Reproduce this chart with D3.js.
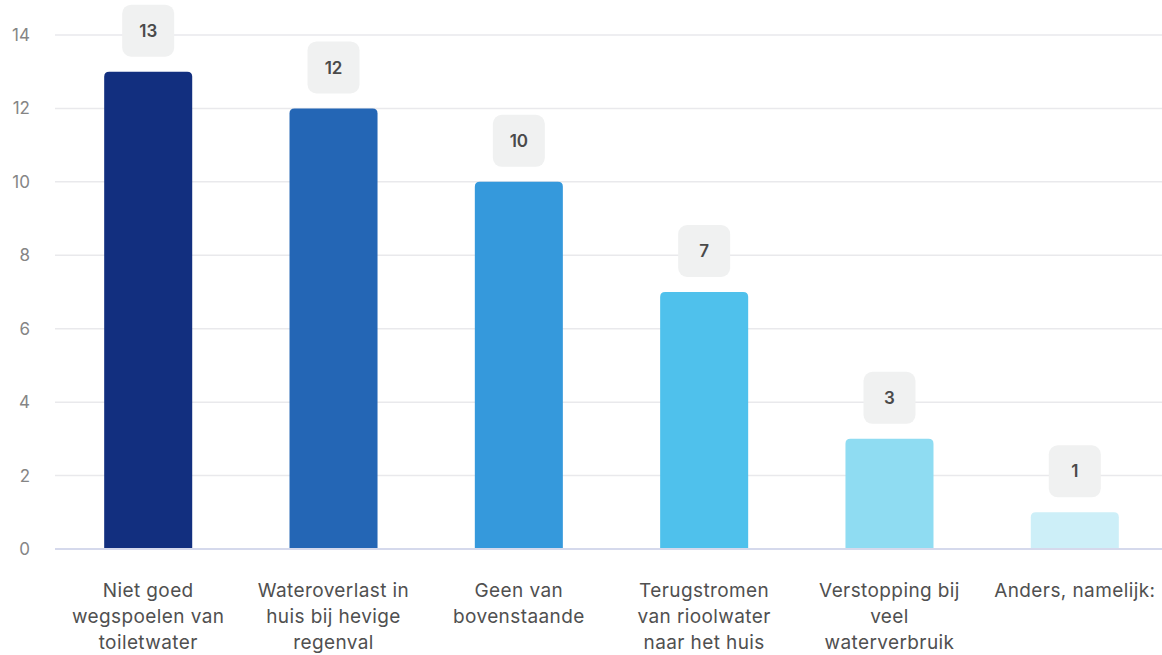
<!DOCTYPE html>
<html>
<head>
<meta charset="utf-8">
<script src="https://cdn.jsdelivr.net/npm/d3@7"></script>
<style>
  html, body { margin: 0; padding: 0; background: #fff; }
  svg { display: block; font-family: Inter, "Noto Sans", sans-serif; }
</style>
</head>
<body>
<svg id="chart"></svg>
<script>
// data
var categories = [
  ["Niet goed", "wegspoelen van", "toiletwater"],
  ["Wateroverlast in", "huis bij hevige", "regenval"],
  ["Geen van", "bovenstaande"],
  ["Terugstromen", "van rioolwater", "naar het huis"],
  ["Verstopping bij", "veel", "waterverbruik"],
  ["Anders, namelijk:"]
];
var values = [13, 12, 10, 7, 3, 1];
var barColors = ["#122f7f", "#2466b5", "#3599dc", "#4fc1ec", "#8fdcf2", "#cdeff8"];
var yTicks = [0, 2, 4, 6, 8, 10, 12, 14];

var width = 1162, height = 655;

var svg = d3.select("#chart")
  .attr("width", width)
  .attr("height", height);

var x = d3.scaleBand()
  .domain(d3.range(values.length))
  .range([56, 1167])
  .paddingInner(0.525)
  .paddingOuter(0.26);

var y = d3.scaleLinear()
  .domain([0, 14])
  .range([549, 35]);

// grid lines
svg.append("g")
  .selectAll("line")
  .data(yTicks.filter(function(d) { return d > 0; }))
  .enter().append("line")
    .attr("x1", 55)
    .attr("x2", width)
    .attr("y1", function(d) { return y(d); })
    .attr("y2", function(d) { return y(d); })
    .attr("stroke", "#e9e9ec")
    .attr("stroke-width", 1.5);

// y tick labels
svg.append("g")
  .selectAll("text")
  .data(yTicks)
  .enter().append("text")
    .attr("x", 30)
    .attr("y", function(d) { return y(d); })
    .attr("dy", "0.35em")
    .attr("text-anchor", "end")
    .attr("fill", "#858585")
    .style("font-size", "17px")
    .text(function(d) { return d; });

// bars with rounded top corners
var r = 5;
function barPath(i) {
  var x0 = x(i), w = x.bandwidth(), y0 = y(values[i]), yb = y(0);
  return "M" + x0 + "," + yb +
    "V" + (y0 + r) +
    "Q" + x0 + "," + y0 + " " + (x0 + r) + "," + y0 +
    "H" + (x0 + w - r) +
    "Q" + (x0 + w) + "," + y0 + " " + (x0 + w) + "," + (y0 + r) +
    "V" + yb + "Z";
}

svg.append("g")
  .selectAll("path")
  .data(values)
  .enter().append("path")
    .attr("d", function(d, i) { return barPath(i); })
    .attr("fill", function(d, i) { return barColors[i]; });

// baseline
svg.append("line")
  .attr("x1", 55)
  .attr("x2", width)
  .attr("y1", y(0))
  .attr("y2", y(0))
  .attr("stroke", "#d5d9ec")
  .attr("stroke-width", 2);

// value label boxes
var boxW = 52, boxH = 52, gap = 15;
var lbl = svg.append("g")
  .selectAll("g")
  .data(values)
  .enter().append("g")
    .attr("transform", function(d, i) {
      return "translate(" + (x(i) + x.bandwidth() / 2) + "," + (y(d) - gap - boxH / 2) + ")";
    });

lbl.append("rect")
  .attr("x", -boxW / 2)
  .attr("y", -boxH / 2)
  .attr("width", boxW)
  .attr("height", boxH)
  .attr("rx", 9)
  .attr("fill", "#f0f1f1");

lbl.append("text")
  .attr("text-anchor", "middle")
  .attr("dy", "0.36em")
  .attr("fill", "#4a4a4a")
  .style("font-size", "17px")
  .style("font-weight", "600")
  .text(function(d) { return d; });

// category labels
var cat = svg.append("g")
  .selectAll("text")
  .data(categories)
  .enter().append("text")
    .attr("x", function(d, i) { return x(i) + x.bandwidth() / 2; })
    .attr("y", 590)
    .attr("text-anchor", "middle")
    .attr("fill", "#505050")
    .style("font-size", "19px")
    .style("letter-spacing", "0.4px");

cat.selectAll("tspan")
  .data(function(d) { return d; })
  .enter().append("tspan")
    .attr("x", function() { return d3.select(this.parentNode).attr("x"); })
    .attr("y", function(d, j) { return 590 + j * 26; })
    .attr("dy", "0.35em")
    .text(function(d) { return d; });
</script>
</body>
</html>
